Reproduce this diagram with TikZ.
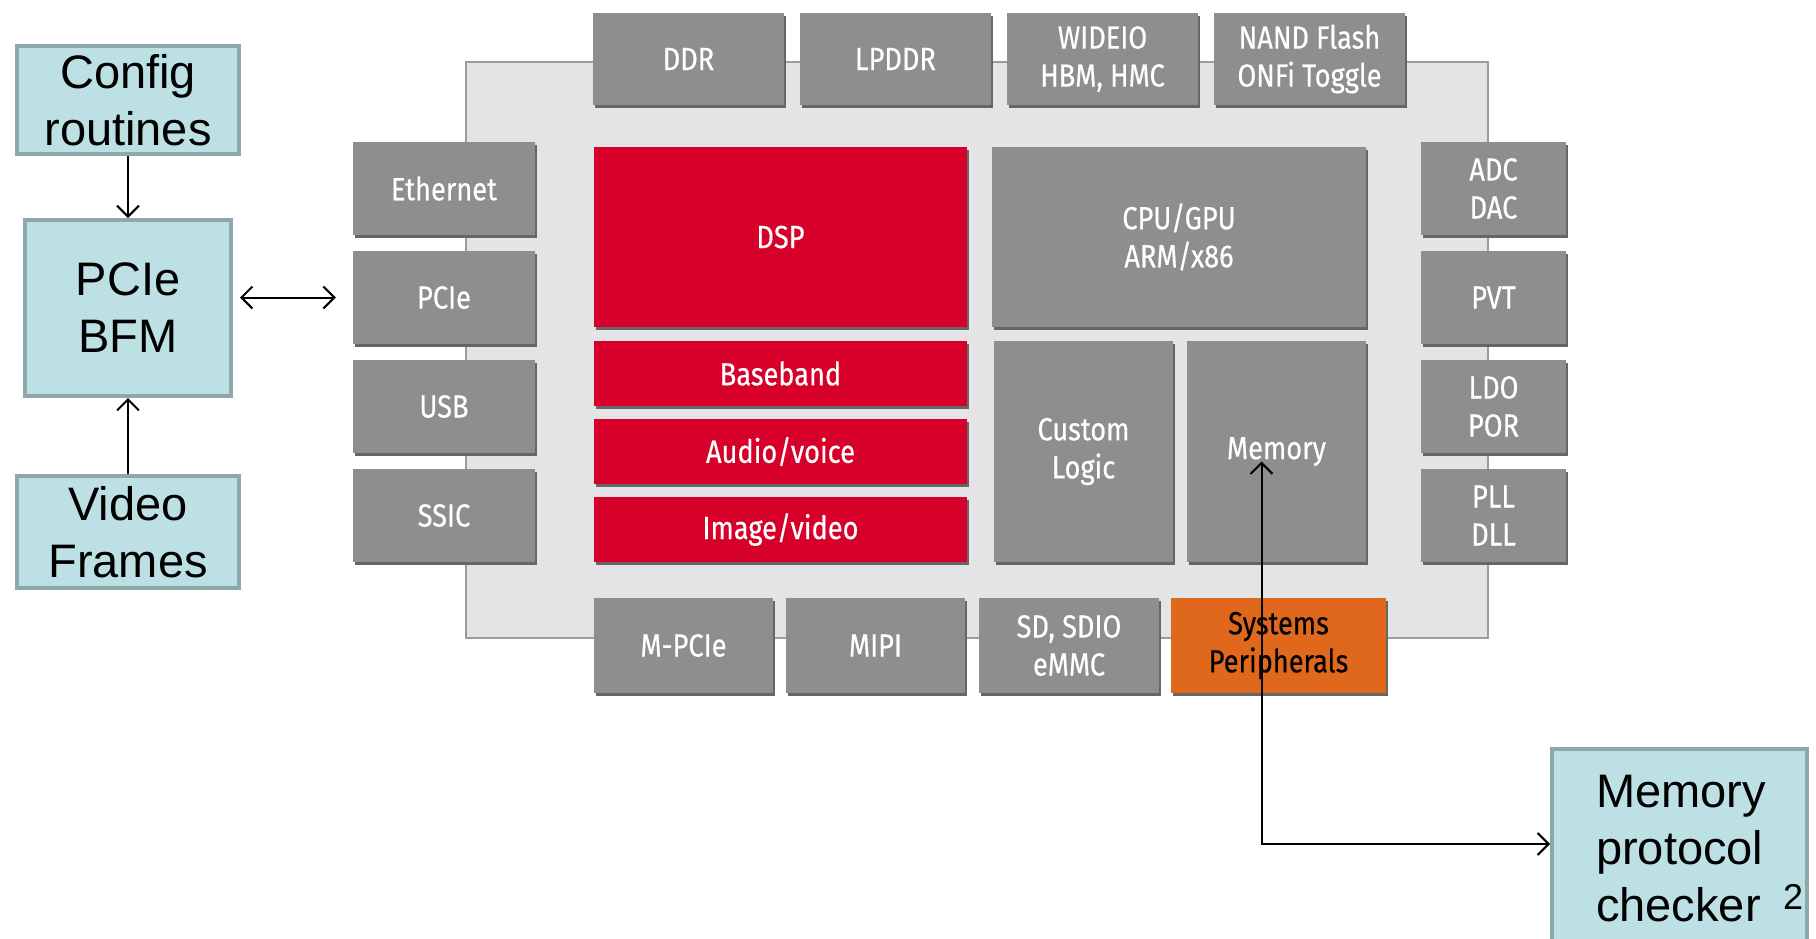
\documentclass[tikz,border=0pt]{standalone}
\usepackage{fontspec}
\setmainfont{Liberation Sans}
\newfontfamily\chipfont[FakeStretch=0.85,FakeBold=0.4]{Fira Sans}
\usetikzlibrary{arrows.meta,shadows,calc}

\definecolor{chipbg}{HTML}{E4E4E6}
\definecolor{chipedge}{HTML}{9C9C9C}
\definecolor{blkgray}{HTML}{8E8E8E}
\definecolor{blkshade}{HTML}{666666}
\definecolor{dspred}{HTML}{D6002B}
\definecolor{periorange}{HTML}{E0681C}
\definecolor{tbfill}{HTML}{BCE0E3}
\definecolor{tbedge}{HTML}{8DA8AB}

% block placed by its top-left and bottom-right corners
\newcommand\chipblock[7]{%
  \node[#2, minimum width={#5-#3}, minimum height={#6-#4}]
    (#1) at ({(#3+#5)/2},{(#4+#6)/2}) {#7};}

\tikzset{
  chipbody/.style={rectangle, fill=chipbg, draw=chipedge, line width=1.5pt, inner sep=0pt},
  blk/.style={rectangle, fill=blkgray, text=white, inner sep=0pt, align=center,
    font=\chipfont\fontsize{32}{38}\selectfont,
    general shadow={fill=blkshade, shadow xshift=2pt, shadow yshift=-3pt}},
  redblk/.style={blk, fill=dspred},
  orblk/.style={blk, fill=periorange, text=black},
  tbox/.style={rectangle, fill=tbfill, draw=tbedge, line width=4pt, inner sep=0pt,
    align=center, font=\fontsize{47}{57}\selectfont},
  conn/.style={draw=black, line width=2pt, >={Straight Barb[length=11pt,width=22pt]}},
}

\begin{document}
\begin{tikzpicture}[x=1pt,y=-1pt]
\clip (0,0) rectangle (1816,938);
\fill[white] (0,0) rectangle (1816,938);

% chip outline
\chipblock{chip}{chipbody}{466}{62}{1488}{638}{}

% memory interfaces along the top
\chipblock{ddr}{blk}{593}{13}{784}{105}{DDR}
\chipblock{lpddr}{blk}{800}{13}{991}{105}{LPDDR}
\chipblock{wideio}{blk}{1007}{13}{1198}{105}{WIDEIO\\HBM, HMC}
\chipblock{nand}{blk}{1214}{13}{1405}{105}{NAND Flash\\ONFi Toggle}

% left-hand interfaces
\chipblock{eth}{blk}{353}{142}{535}{235}{Ethernet}
\chipblock{pcie}{blk}{353}{251}{535}{344}{PCIe}
\chipblock{usb}{blk}{353}{360}{535}{453}{USB}
\chipblock{ssic}{blk}{353}{469}{535}{562}{SSIC}

% right-hand analog blocks
\chipblock{adc}{blk}{1421}{142}{1566}{235}{ADC\\DAC}
\chipblock{pvt}{blk}{1421}{251}{1566}{344}{PVT}
\chipblock{ldo}{blk}{1421}{360}{1566}{453}{LDO\\POR}
\chipblock{pll}{blk}{1421}{469}{1566}{562}{PLL\\DLL}

% core
\chipblock{dsp}{redblk}{594}{147}{967}{327}{DSP}
\chipblock{baseband}{redblk}{594}{341}{967}{406}{Baseband}
\chipblock{audio}{redblk}{594}{419}{967}{484}{Audio/voice}
\chipblock{image}{redblk}{594}{497}{967}{562}{Image/video}
\chipblock{cpu}{blk}{992}{147}{1366}{327}{CPU/GPU\\ARM/x86}
\chipblock{logic}{blk}{994}{341}{1173}{562}{Custom\\Logic}
\chipblock{mem}{blk}{1187}{341}{1366}{562}{Memory}

% bottom interfaces
\chipblock{mpcie}{blk}{594}{598}{773}{693}{M-PCIe}
\chipblock{mipi}{blk}{786}{598}{965}{693}{MIPI}
\chipblock{sd}{blk}{979}{598}{1159}{693}{SD, SDIO\\eMMC}
\chipblock{sysper}{orblk}{1171}{598}{1386}{693}{Systems\\Peripherals}

% testbench components
\chipblock{config}{tbox}{17}{46}{239}{154}{Config\\routines}
\chipblock{bfm}{tbox}{25}{220}{231}{396}{PCIe\\BFM}
\chipblock{video}{tbox}{17}{476}{239}{588}{Video\\Frames}
\chipblock{checker}{tbox}{1552}{749}{1807}{1000}{}
% anchored on the baseline of the last line
\node[anchor=base west, align=left, inner sep=0pt, font=\fontsize{47}{57}\selectfont]
  (checkertext) at (1596,921) {Memory\\protocol\\checker};
\node[anchor=base west, inner sep=0pt, font=\fontsize{36}{36}\selectfont]
  (slideno) at (1783,909) {2};

% connections
\draw[conn,->] (config) -- (bfm);
\draw[conn,->] (video) -- (bfm);
\draw[conn,<->] ($(bfm.east |- pcie.west)+(7,0)$) -- ($(pcie.west)+(-17,0)$);
\coordinate (bend) at ($(mem.center |- 0,844)+(-15,0)$);
\draw[conn,<->] ($(bend |- mem.center)+(0,10)$) -- (bend) -- (checker.west |- bend);
\end{tikzpicture}
\end{document}
